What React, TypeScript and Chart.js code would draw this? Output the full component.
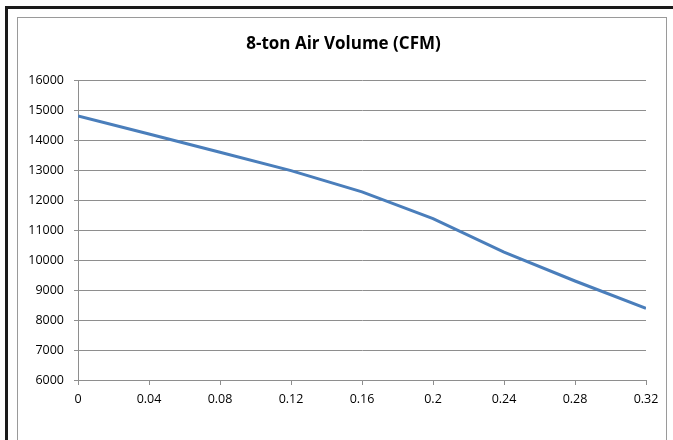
import React, { useEffect, useRef } from "react";
import { Chart, registerables } from "chart.js";

Chart.register(...registerables);

const pressure = [0, 0.04, 0.08, 0.12, 0.16, 0.2, 0.24, 0.28, 0.32];
const airVolume = [14800, 14200, 13590, 12980, 12270, 11380, 10260, 9300, 8390];
const chartTitle = "8-ton Air Volume (CFM)";
const yMin = 6000;
const yMax = 16000;
const yStep = 1000;
const xMin = 0;
const xMax = 0.32;
const xStep = 0.04;

const titlePlugin = {
  id: "centeredTitle",
  afterDraw(chart: any) {
    const ctx = chart.ctx;
    ctx.save();
    ctx.fillStyle = "#000";
    ctx.font = "bold 17px 'Open Sans'";
    ctx.textAlign = "center";
    ctx.textBaseline = "middle";
    ctx.fillText(chartTitle, 343.5, 44);
    ctx.restore();
  },
};

export default function App() {
  const ref = useRef<HTMLCanvasElement | null>(null);

  useEffect(() => {
    document.body.style.margin = "0";
    if (!ref.current) return;
    const gridColor = "#8e8e8e";
    const tickFont = { family: "Open Sans", size: 12.5 };
    const chart = new Chart(ref.current, {
      type: "line",
      data: {
        datasets: [
          {
            data: pressure.map((x, i) => ({ x, y: airVolume[i] })),
            borderColor: "#4a7ebb",
            borderWidth: 3,
            pointRadius: 0,
            tension: 0,
            fill: false,
          },
        ],
      },
      options: {
        animation: false,
        responsive: false,
        devicePixelRatio: 1,
        layout: { padding: { left: 0, right: 27, top: 80, bottom: 0 } },
        plugins: {
          legend: { display: false },
          tooltip: { enabled: false },
          title: { display: false },
        },
        scales: {
          x: {
            type: "linear",
            min: xMin,
            max: xMax,
            afterFit: (s: any) => {
              s.height = 60;
            },
            afterBuildTicks: (s: any) => {
              s.ticks = pressure.map((v) => ({ value: v }));
            },
            ticks: {
              stepSize: xStep,
              color: "#000",
              padding: 7,
              maxRotation: 0,
              autoSkip: false,
              font: tickFont,
              callback: (v: any) => String(Math.round(Number(v) * 100) / 100),
            },
            grid: {
              drawOnChartArea: false,
              drawTicks: true,
              tickLength: 5,
              color: gridColor,
            },
            border: { display: true, color: gridColor, width: 1 },
          },
          y: {
            min: yMin,
            max: yMax,
            afterFit: (s: any) => {
              s.width = 78;
            },
            ticks: {
              stepSize: yStep,
              color: "#000",
              padding: 10,
              font: tickFont,
              callback: (v: any) => String(v),
            },
            grid: {
              drawOnChartArea: true,
              drawTicks: true,
              tickLength: 4,
              color: gridColor,
            },
            border: { display: true, color: gridColor, width: 1 },
          },
        },
      },
      plugins: [titlePlugin],
    });
    return () => chart.destroy();
  }, []);

  return (
    <div style={{ position: "relative", width: 673, height: 440, overflow: "hidden", background: "#fff" }}>
      <div style={{ position: "absolute", left: 5, top: 6, right: 0, height: 3, background: "#1a1a1a" }} />
      <div style={{ position: "absolute", left: 5, top: 6, width: 3, bottom: 0, background: "#1a1a1a" }} />
      <div
        style={{
          position: "absolute",
          left: 17,
          top: 17,
          width: 650,
          height: 440,
          border: "1px solid #9a9a9a",
          boxSizing: "border-box",
        }}
      />
      <canvas ref={ref} width={673} height={440} style={{ position: "absolute", left: 0, top: 0 }} />
    </div>
  );
}
